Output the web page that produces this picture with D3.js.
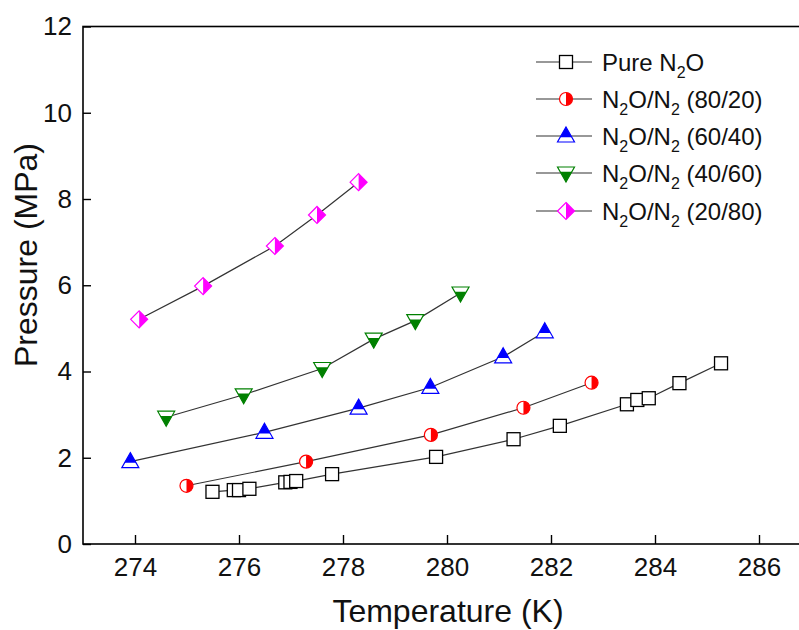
<!DOCTYPE html>
<html><head><meta charset="utf-8">
<script src="https://cdn.jsdelivr.net/npm/d3@7/dist/d3.min.js"></script>
<style>body{margin:0;background:#fff;}svg{display:block;font-family:"Liberation Sans",Arial,sans-serif;}</style>
</head><body>
<svg id="c" width="799" height="630"></svg>
<script>
const xTicks = [274, 276, 278, 280, 282, 284, 286];
const yTicks = [0, 2, 4, 6, 8, 10, 12];

const pureT = [275.49, 275.90, 276.00, 276.20, 276.89, 276.99, 277.10, 277.79, 279.79, 281.28, 282.17, 283.46, 283.66, 283.88, 284.47, 285.27];
const pureP = [1.21, 1.25, 1.25, 1.28, 1.43, 1.44, 1.46, 1.62, 2.02, 2.43, 2.74, 3.24, 3.34, 3.38, 3.73, 4.19];
const m8020T = [274.99, 277.29, 279.69, 281.47, 282.78];
const m8020P = [1.35, 1.91, 2.53, 3.16, 3.74];
const m6040T = [273.91, 276.49, 278.30, 279.68, 281.08, 281.88];
const m6040P = [1.91, 2.59, 3.15, 3.63, 4.34, 4.92];
const m4060T = [274.60, 276.09, 277.60, 278.59, 279.39, 280.26];
const m4060P = [2.94, 3.46, 4.07, 4.75, 5.18, 5.82];
const m2080T = [274.08, 275.31, 276.69, 277.50, 278.30];
const m2080P = [5.21, 5.98, 6.91, 7.63, 8.39];

const seriesNames = [
  [["Pure N",""],["2","sub"],["O",""]],
  [["N",""],["2","sub"],["O/N",""],["2","sub"],[" (80/20)",""]],
  [["N",""],["2","sub"],["O/N",""],["2","sub"],[" (60/40)",""]],
  [["N",""],["2","sub"],["O/N",""],["2","sub"],[" (40/60)",""]],
  [["N",""],["2","sub"],["O/N",""],["2","sub"],[" (20/80)",""]]
];
const series = [
  {T: pureT, P: pureP, marker: "square", color: "#000"},
  {T: m8020T, P: m8020P, marker: "circle", color: "#ff0000"},
  {T: m6040T, P: m6040P, marker: "triup", color: "#0000ff"},
  {T: m4060T, P: m4060P, marker: "tridown", color: "#008000"},
  {T: m2080T, P: m2080P, marker: "diamond", color: "#ff00ff"}
];

(function () {
const svg = d3.select("#c");
const mLeft = 83, mTop = 26.5, mBottom = 544, mRight = 811;
const x = d3.scaleLinear().domain([273, 287]).range([mLeft, mRight]);
const y = d3.scaleLinear().domain([0, 12]).range([mBottom, mTop]);

svg.append("rect").attr("x", mLeft).attr("y", mTop).attr("width", mRight - mLeft).attr("height", mBottom - mTop)
  .attr("fill", "none").attr("stroke", "#000").attr("stroke-width", 1.6);

const xAxis = d3.axisBottom(x).tickValues(xTicks).tickSize(-9).tickPadding(14).tickFormat(d3.format("d"));
const gx = svg.append("g").attr("transform", `translate(0,${mBottom})`).call(xAxis);
gx.select(".domain").remove();
gx.selectAll("line").attr("stroke-width", 1.4);
gx.selectAll("text").attr("font-size", 26).attr("fill", "#111").attr("font-family", "Liberation Sans, Arial, sans-serif");

const yAxis = d3.axisLeft(y).tickValues(yTicks).tickSize(-8).tickPadding(11).tickFormat(d3.format("d"));
const gy = svg.append("g").attr("transform", `translate(${mLeft},0)`).call(yAxis);
gy.select(".domain").remove();
gy.selectAll("line").attr("stroke-width", 1.4);
gy.selectAll("text").attr("font-size", 26).attr("fill", "#111").attr("font-family", "Liberation Sans, Arial, sans-serif");

svg.append("text").attr("x", 448).attr("y", 622).attr("text-anchor", "middle")
  .attr("font-size", 32).attr("fill", "#111").text("Temperature (K)");
svg.append("text").attr("transform", "translate(37,255) rotate(-90)").attr("text-anchor", "middle")
  .attr("font-size", 32).attr("fill", "#111").text("Pressure (MPa)");

function drawMarker(g, type, color, cx, cy) {
  const m = g.append("g").attr("transform", `translate(${cx},${cy})`);
  if (type === "square") {
    m.append("rect").attr("x", -6.5).attr("y", -6.5).attr("width", 13).attr("height", 13)
      .attr("fill", "#fff").attr("stroke", "#000").attr("stroke-width", 1.3);
  } else if (type === "circle") {
    const r = 6.5;
    m.append("circle").attr("r", r).attr("fill", "#fff").attr("stroke", color).attr("stroke-width", 1.2);
    m.append("path").attr("d", `M0,${-r} A${r},${r} 0 0 1 0,${r} Z`).attr("fill", color);
  } else if (type === "triup" || type === "tridown") {
    const s = type === "triup" ? 1 : -1;
    const a = -9 * s, b = 6 * s, w = 8.5;
    m.append("path").attr("d", `M0,${a} L${w},${b} L${-w},${b} Z`).attr("fill", "#fff").attr("stroke", color).attr("stroke-width", 1.2);
    const f = 0.68, yy = a + (b - a) * f, ww = w * f;
    m.append("path").attr("d", `M0,${a} L${ww},${yy} L${-ww},${yy} Z`).attr("fill", color);
  } else if (type === "diamond") {
    const h = 8.5;
    m.append("path").attr("d", `M0,${-h} L${h},0 L0,${h} L${-h},0 Z`).attr("fill", "#fff").attr("stroke", color).attr("stroke-width", 1.2);
    m.append("path").attr("d", `M0,${-h} L${h},0 L0,${h} Z`).attr("fill", color);
  }
}

const line = d3.line().x(d => x(d[0])).y(d => y(d[1]));
const plot = svg.append("g");
series.forEach(s => {
  const pts = s.T.map((t, i) => [t, s.P[i]]);
  plot.append("path").attr("d", line(pts)).attr("fill", "none").attr("stroke", "#333").attr("stroke-width", 1.2);
});
series.forEach(s => {
  s.T.forEach((t, i) => drawMarker(plot, s.marker, s.color, x(t), y(s.P[i])));
});

const lg = svg.append("g");
const rowY = [62, 99, 136, 173, 211];
series.forEach((s, i) => {
  const yy = rowY[i];
  lg.append("line").attr("x1", 536).attr("x2", 592).attr("y1", yy).attr("y2", yy).attr("stroke", "#333").attr("stroke-width", 1.2);
  drawMarker(lg, s.marker, s.color, 566, yy);
  const t = lg.append("text").attr("x", 602).attr("y", yy + 8.5).attr("font-size", 24).attr("fill", "#111");
  let prevSub = false;
  seriesNames[i].forEach(p => {
    if (p[1] === "sub") {
      t.append("tspan").attr("font-size", 16).attr("dy", 7).text(p[0]);
      prevSub = true;
    } else {
      const ts = t.append("tspan").text(p[0]);
      if (prevSub) ts.attr("dy", -7);
      prevSub = false;
    }
  });
});
})();
</script>
</body></html>
